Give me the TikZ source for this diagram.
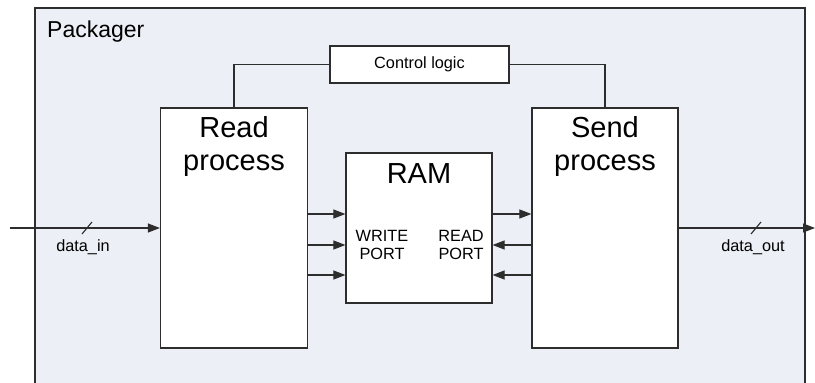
\documentclass[tikz,border=0pt]{standalone}
\usepackage{fontspec}
\setmainfont{Liberation Sans}
\usetikzlibrary{arrows.meta,calc}
\definecolor{panel}{RGB}{236,239,245}
\definecolor{edge}{RGB}{45,45,45}
\tikzset{
  blockbox/.style={draw=edge,line width=1.2pt,fill=white,inner sep=0pt},
  wire/.style={draw=edge,line width=1.1pt},
  arr/.style={wire,-{Triangle[length=12pt,width=9pt]}},
  bigtxt/.style={font=\fontsize{29}{33}\selectfont,align=center,inner sep=0pt},
  smalltxt/.style={font=\fontsize{16.3}{18}\selectfont,align=center,inner sep=0pt},
}
\begin{document}
\begin{tikzpicture}[x=1pt,y=-1pt]
  \clip (0,0) rectangle (815,383);
  \fill[white] (0,0) rectangle (815,383);
  % enclosing Packager block (runs past the lower edge)
  \draw[draw=edge,line width=1.1pt,fill=panel] (35,400) -- (35,8) -- (805,8) -- (805,400);
  \node[anchor=west,inner sep=0pt,font=\fontsize{23}{26}\selectfont] (pkg) at (47,32) {Packager};

  % main blocks
  \node[blockbox,minimum width=147pt,minimum height=240pt] (read) at (234,228) {};
  \node[blockbox,minimum width=146pt,minimum height=240pt] (send) at (605,228) {};
  \node[blockbox,minimum width=146pt,minimum height=150pt] (ram) at (419,228) {};
  \node[blockbox,minimum width=179pt,minimum height=37pt,smalltxt] (ctrl) at (419.5,64.5) {Control logic};

  \node[bigtxt] (readtxt) at (234,146) {Read\\process};
  \node[bigtxt] (sendtxt) at (605,146) {Send\\process};
  \node[bigtxt] (ramtxt) at (419,174) {RAM};
  \node[smalltxt] (wport) at (382,245) {WRITE\\PORT};
  \node[smalltxt] (rport) at (461,245) {READ\\PORT};

  % control logic connections
  \draw[wire] (ctrl.west) -| (read.north);
  \draw[wire] (ctrl.east) -| (send.north);

  % write port lines
  \foreach \yy in {214,245,275} {
    \draw[arr] (read.east |- 0,\yy) -- (ram.west |- 0,\yy);
  }
  % read port lines
  \draw[arr] (ram.east |- 0,214) -- (send.west |- 0,214);
  \foreach \yy in {245,275} {
    \draw[arr] (send.west |- 0,\yy) -- (ram.east |- 0,\yy);
  }

  % external data buses
  \coordinate (inend) at (10,228);
  \coordinate (outend) at (815,228);
  \draw[arr] (inend) -- (read.west);
  \draw[arr] (send.east) -- (outend);
  \draw[wire] (82,234) -- (92,222);
  \draw[wire] (751,234) -- (761,222);
  \node[smalltxt] (din) at (83,247) {data\_in};
  \node[smalltxt] (dout) at (753,247) {data\_out};
\end{tikzpicture}
\end{document}
